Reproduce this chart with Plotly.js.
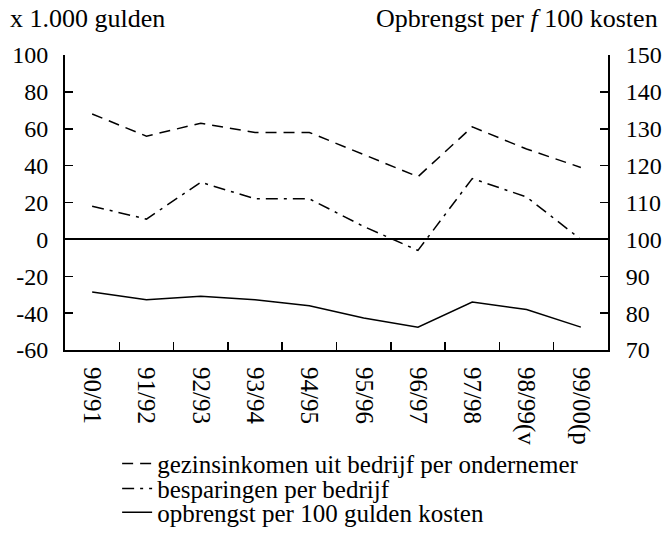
<!DOCTYPE html>
<html>
<head>
<meta charset="utf-8">
<script src="https://cdn.plot.ly/plotly-3.0.1.min.js"></script>
<style>html,body{margin:0;padding:0;background:#fff;}#chart{width:665px;height:543px;}</style>
</head>
<body>
<div id="chart"></div>
<script>
const categories = ["90/91","91/92","92/93","93/94","94/95","95/96","96/97","97/98","98/99(v","99/00(p"];
const gezinsinkomen = [68, 56, 63, 58, 58, 46, 34, 61, 49, 39];
const besparingen = [18, 11, 31, 22, 22, 7, -6, 33, 23, 0];
const opbrengst = [85.7, 83.6, 84.6, 83.6, 82, 78.7, 76.2, 83, 81, 76.2];
const leftTicks = [-60, -40, -20, 0, 20, 40, 60, 80, 100];
const rightTicks = [70, 80, 90, 100, 110, 120, 130, 140, 150];

const FONT = "Liberation Serif";

const traces = [
  {x: categories, y: gezinsinkomen, type: "scatter", mode: "lines", name: "gezinsinkomen uit bedrijf per ondernemer",
   line: {color: "#000", width: 1.5, dash: "11px,7px"}, yaxis: "y", legend: "legend"},
  {x: categories, y: besparingen, type: "scatter", mode: "lines", name: "besparingen per bedrijf",
   line: {color: "#000", width: 1.5, dash: "12px,6px,3px,6px"}, yaxis: "y", legend: "legend2"},
  {x: categories, y: opbrengst, type: "scatter", mode: "lines", name: "opbrengst per 100 gulden kosten",
   line: {color: "#000", width: 1.5}, yaxis: "y2", legend: "legend3"}
];

const legendBase = {x: 0.096, xanchor: "left", yanchor: "middle", yref: "container",
                    font: {family: FONT, size: 25, color: "#000"}, bgcolor: "rgba(0,0,0,0)", borderwidth: 0};

const layout = {
  width: 665, height: 543,
  margin: {l: 65, r: 57, t: 55, b: 193},
  paper_bgcolor: "#fff", plot_bgcolor: "#fff",
  font: {family: FONT, size: 24, color: "#000"},
  showlegend: true,
  legend: Object.assign({}, legendBase, {y: 0.146}),
  legend2: Object.assign({}, legendBase, {y: 0.100}),
  legend3: Object.assign({}, legendBase, {y: 0.056}),
  xaxis: {type: "category", tickson: "boundaries", ticks: "inside", ticklen: 8, tickwidth: 1.5, tickcolor: "#000",
          showline: true, linecolor: "#000", linewidth: 2, showgrid: false, zeroline: false,
          tickangle: 90, tickfont: {family: FONT, size: 25, color: "#000"}, ticklabelstandoff: 10,
          range: [-0.5, categories.length - 0.5]},
  yaxis: {range: [-60, 100], tickvals: leftTicks, ticktext: leftTicks.map(String), ticks: "inside", ticklen: 8,
          tickwidth: 1.5, tickcolor: "#000", showline: true, linecolor: "#000", linewidth: 2,
          showgrid: false, zeroline: true, zerolinecolor: "#000", zerolinewidth: 2,
          tickfont: {family: FONT, size: 24, color: "#000"}, ticklabelstandoff: 10},
  yaxis2: {range: [70, 150], tickvals: rightTicks, ticktext: rightTicks.map(String), overlaying: "y", side: "right",
           ticks: "inside", ticklen: 8, tickwidth: 1.5, tickcolor: "#000", showline: true, linecolor: "#000",
           linewidth: 2, showgrid: false, zeroline: false, tickfont: {family: FONT, size: 24, color: "#000"},
           ticklabelstandoff: 11},
  annotations: [
    {text: "x 1.000 gulden", xref: "paper", yref: "paper", x: -0.1, y: 1.0, xshift: -3, yshift: 20, xanchor: "left", yanchor: "bottom",
     showarrow: false, font: {family: FONT, size: 26}},
    {text: "Opbrengst per <i>f</i> 100 kosten", xref: "paper", yref: "paper", x: 1.0, y: 1.0, xshift: 52, yshift: 20,
     xanchor: "right", yanchor: "bottom", showarrow: false, font: {family: FONT, size: 26}}
  ]
};

Plotly.newPlot("chart", traces, layout, {displayModeBar: false, staticPlot: true});
</script>
</body>
</html>
